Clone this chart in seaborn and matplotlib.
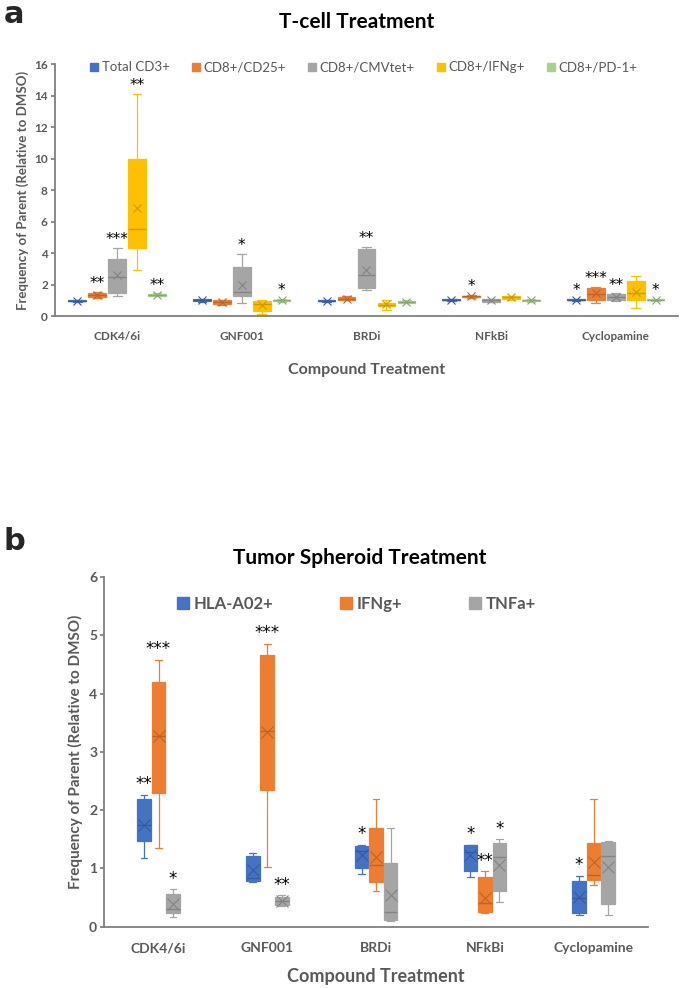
import numpy as np
import pandas as pd
import seaborn as sns
import matplotlib.pyplot as plt
from matplotlib.lines import Line2D
from matplotlib.colors import to_rgb

sns.set_theme(style="white")
plt.rcParams["font.family"] = ["Lato", "DejaVu Sans"]

# Data (five-number summaries: low whisker, Q1, median, Q3, high whisker):
compounds = ["CDK4/6i", "GNF001", "BRDi", "NFkBi", "Cyclopamine"]

tcell_series = ["Total CD3+", "CD8+/CD25+", "CD8+/CMVtet+", "CD8+/IFNg+",
                "CD8+/PD-1+"]
tcell_colors = ["#4472C4", "#ED7D31", "#A5A5A5", "#FFC000", "#A9D18E"]

total_cd3 = [[0.93, 0.96, 0.98, 1.00, 1.02], [0.90, 0.95, 1.00, 1.06, 1.10],
             [0.93, 0.96, 0.98, 1.00, 1.02], [0.98, 1.02, 1.05, 1.08, 1.10],
             [0.98, 1.01, 1.04, 1.07, 1.10]]
cd25 = [[1.15, 1.20, 1.35, 1.50, 1.55], [0.72, 0.80, 0.90, 1.00, 1.05],
        [1.00, 1.05, 1.12, 1.20, 1.25], [1.15, 1.20, 1.25, 1.30, 1.35],
        [0.85, 1.00, 1.40, 1.78, 1.85]]
cmvtet = [[1.30, 1.50, 2.50, 3.65, 4.35], [0.85, 1.30, 1.55, 3.15, 3.95],
          [1.65, 1.76, 2.60, 4.25, 4.42], [0.88, 0.92, 1.00, 1.08, 1.12],
          [0.95, 1.00, 1.20, 1.38, 1.45]]
ifng_t = [[2.90, 4.35, 5.55, 10.0, 14.1], [0.15, 0.35, 0.75, 0.95, 1.05],
          [0.40, 0.65, 0.72, 0.85, 1.00], [1.05, 1.10, 1.20, 1.28, 1.30],
          [0.50, 1.00, 1.50, 2.26, 2.53]]
pd1 = [[1.25, 1.30, 1.35, 1.40, 1.45], [0.90, 0.95, 1.00, 1.05, 1.10],
       [0.82, 0.86, 0.92, 0.98, 1.02], [0.92, 0.96, 1.00, 1.04, 1.06],
       [0.98, 1.02, 1.05, 1.08, 1.12]]

total_cd3_mean = [0.98, 1.00, 0.98, 1.05, 1.04]
cd25_mean = [1.35, 0.90, 1.12, 1.25, 1.45]
cmvtet_mean = [2.60, 1.95, 2.90, 1.00, 1.20]
ifng_t_mean = [6.90, 0.68, 0.75, 1.20, 1.55]
pd1_mean = [1.35, 1.00, 0.92, 1.00, 1.05]

total_cd3_sig = ["", "", "", "", "*"]
cd25_sig = ["**", "", "", "*", "***"]
cmvtet_sig = ["***", "*", "**", "", "**"]
ifng_t_sig = ["**", "", "", "", ""]
pd1_sig = ["**", "*", "", "", "*"]

spheroid_series = ["HLA-A02+", "IFNg+", "TNFa+"]
spheroid_colors = ["#4472C4", "#ED7D31", "#A5A5A5"]

hla = [[1.18, 1.47, 1.75, 2.20, 2.26], [0.77, 0.78, 0.84, 1.21, 1.26],
       [0.90, 1.01, 1.30, 1.39, 1.41], [0.86, 0.95, 1.29, 1.40, 1.41],
       [0.20, 0.24, 0.50, 0.78, 0.87]]
ifng_s = [[1.35, 2.29, 3.27, 4.20, 4.58], [1.03, 2.35, 3.35, 4.66, 4.85],
          [0.62, 0.77, 1.06, 1.69, 2.19], [0.24, 0.26, 0.40, 0.85, 0.95],
          [0.71, 0.80, 0.89, 1.43, 2.19]]
tnfa = [[0.16, 0.24, 0.31, 0.57, 0.64], [0.36, 0.37, 0.45, 0.51, 0.54],
        [0.10, 0.11, 0.25, 1.09, 1.69], [0.43, 0.62, 1.19, 1.43, 1.50],
        [0.20, 0.39, 1.21, 1.46, 1.47]]

hla_mean = [1.75, 0.97, 1.23, 1.23, 0.51]
ifng_s_mean = [3.27, 3.34, 1.19, 0.50, 1.11]
tnfa_mean = [0.39, 0.45, 0.54, 1.06, 1.03]

hla_sig = ["**", "", "*", "*", "*"]
ifng_s_sig = ["***", "***", "", "**", ""]
tnfa_sig = ["*", "**", "", "*", ""]

TEXT_GRAY = "#595959"


def darken(color, amount=0.7):
    return tuple(c * amount for c in to_rgb(color))


def long_table(names, summaries):
    rows = []
    for name, boxes in zip(names, summaries):
        for compound, five in zip(compounds, boxes):
            for value in five:
                rows.append({"Compound": compound, "Series": name,
                             "Value": value})
    return pd.DataFrame(rows)


def mean_table(names, means):
    rows = []
    for name, values in zip(names, means):
        for compound, value in zip(compounds, values):
            rows.append({"Compound": compound, "Series": name, "Mean": value})
    return pd.DataFrame(rows)


def draw_panel(ax, names, colors, summaries, means, sigs, width, gap,
               star_pad, star_size, mark_size):
    n = len(names)
    box_df = long_table(names, summaries)
    sns.boxplot(data=box_df, x="Compound", y="Value", hue="Series",
                order=compounds, hue_order=names, palette=colors,
                width=width, gap=gap, whis=(0, 100), linewidth=0.9,
                legend=False, ax=ax)
    # Excel-like colouring: lines in the series colour, darker median
    for container, color in zip(ax.containers, colors):
        for box in container.boxes:
            box.set_edgecolor(color)
            box.set_facecolor(color)
        for line in list(container.whiskers) + list(container.caps):
            line.set_color(color)
            line.set_linewidth(0.9)
        for line in container.medians:
            line.set_color(darken(color, 0.8))
            line.set_linewidth(1.0)

    mean_df = mean_table(names, means)
    sns.pointplot(data=mean_df, x="Compound", y="Mean", hue="Series",
                  order=compounds, hue_order=names,
                  palette=[darken(c, 0.8) for c in colors],
                  dodge=width * (n - 1) / n, linestyle="none", markers="x",
                  markersize=mark_size, markeredgewidth=0.8, errorbar=None,
                  legend=False, zorder=5, ax=ax)

    # significance stars above the upper whiskers
    for j, (boxes, labels) in enumerate(zip(summaries, sigs)):
        offset = -width / 2 + width / n * (j + 0.5)
        for i, (five, label) in enumerate(zip(boxes, labels)):
            if label:
                ax.text(i + offset, five[-1] + star_pad, label,
                        ha="center", va="bottom", fontsize=star_size,
                        color="black", family="DejaVu Sans")


def style_axes(ax, ymax, step, tick_size, label_size, xpad, xlabelpad):
    ax.set_xlim(-0.5, 4.5)
    ax.set_ylim(0, ymax)
    ax.set_yticks(np.arange(0, ymax + 0.1, step))
    sns.despine(ax=ax)
    for side in ["left", "bottom"]:
        ax.spines[side].set_color("#7F7F7F")
        ax.spines[side].set_linewidth(1.3)
    ax.tick_params(axis="y", left=True, length=3, color="#7F7F7F",
                   labelsize=tick_size, labelcolor=TEXT_GRAY, pad=2)
    ax.tick_params(axis="x", bottom=False, labelsize=tick_size,
                   labelcolor=TEXT_GRAY, pad=xpad)
    for label in ax.get_xticklabels() + ax.get_yticklabels():
        label.set_fontweight("bold")
    ax.set_ylabel("Frequency of Parent (Relative to DMSO)",
                  fontsize=label_size, fontweight="bold", color=TEXT_GRAY)
    ax.set_xlabel("Compound Treatment", fontsize=label_size + 2,
                  fontweight="bold", color=TEXT_GRAY, labelpad=xlabelpad)


fig = plt.figure(figsize=(6.85, 9.88), dpi=100)

# Panel a: T-cell treatment
ax_a = fig.add_axes([0.080, 0.680, 0.910, 0.255])
draw_panel(ax_a, tcell_series, tcell_colors,
           [total_cd3, cd25, cmvtet, ifng_t, pd1],
           [total_cd3_mean, cd25_mean, cmvtet_mean, ifng_t_mean, pd1_mean],
           [total_cd3_sig, cd25_sig, cmvtet_sig, ifng_t_sig, pd1_sig],
           width=0.8, gap=0.12, star_pad=0.05, star_size=11, mark_size=6)
style_axes(ax_a, 16, 2, 8.5, 9.5, 5, 15)
handles_a = [Line2D([], [], marker="s", linestyle="none", markersize=6,
                    color=c) for c in tcell_colors]
ax_a.legend(handles_a, tcell_series, ncol=5, frameon=False,
            loc="center", bbox_to_anchor=(0.53, 0.932),
            bbox_transform=fig.transFigure, handletextpad=0.15,
            columnspacing=1.6, handlelength=0.8, fontsize=9.5,
            labelcolor=TEXT_GRAY)

# Panel b: Tumor spheroid treatment
ax_b = fig.add_axes([0.152, 0.062, 0.794, 0.354])
draw_panel(ax_b, spheroid_series, spheroid_colors, [hla, ifng_s, tnfa],
           [hla_mean, ifng_s_mean, tnfa_mean],
           [hla_sig, ifng_s_sig, tnfa_sig],
           width=0.4, gap=0.06, star_pad=0.03, star_size=12, mark_size=8)
style_axes(ax_b, 6, 1, 10, 11, 5, 10)
handles_b = [Line2D([], [], marker="s", linestyle="none", markersize=9,
                    color=c) for c in spheroid_colors]
legend_b = ax_b.legend(handles_b, spheroid_series, ncol=3, frameon=False,
                       loc="center", bbox_to_anchor=(0.52, 0.389),
                       bbox_transform=fig.transFigure, handletextpad=0.2,
                       columnspacing=4.0, handlelength=0.8, fontsize=12,
                       labelcolor=TEXT_GRAY)
for text in legend_b.get_texts():
    text.set_fontweight("bold")

# Titles and panel letters
fig.text(0.52, 0.978, "T-cell Treatment", ha="center", va="center",
         fontsize=15, fontweight="bold", color="black")
fig.text(0.525, 0.435, "Tumor Spheroid Treatment", ha="center",
         va="center", fontsize=15, fontweight="bold", color="black")
fig.text(0.005, 0.985, "a", ha="left", va="center", fontsize=22,
         fontweight="bold", family="DejaVu Sans")
fig.text(0.005, 0.452, "b", ha="left", va="center", fontsize=22,
         fontweight="bold", family="DejaVu Sans")

fig.savefig("out.png", dpi=100)
